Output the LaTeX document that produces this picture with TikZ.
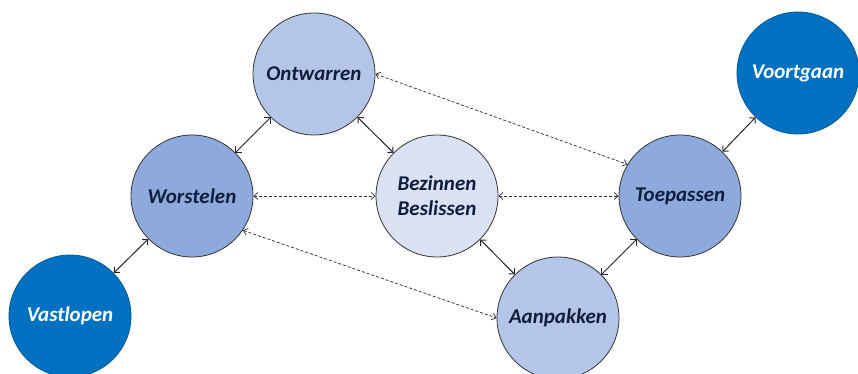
\documentclass[tikz,border=0pt]{standalone}
\usepackage{fontspec}
\setmainfont{Carlito}
\usetikzlibrary{arrows.meta}

\definecolor{palest}{HTML}{D9E1F2}
\definecolor{pale}{HTML}{B4C6E7}
\definecolor{mid}{HTML}{8EA9DB}
\definecolor{deep}{HTML}{0070C0}
\definecolor{navy}{HTML}{0F1E3C}

\begin{document}
\begin{tikzpicture}[x=1pt, y=-1pt]

%-------------------------------------------------
% Styles
%-------------------------------------------------
\tikzset{
  phase/.style={circle, draw=black!80, line width=0.8pt, inner sep=0pt,
    minimum size=122pt, align=center, text=navy,
    font=\fontsize{21}{25}\selectfont\bfseries\itshape},
  lightest/.style={phase, fill=palest},
  light/.style={phase, fill=pale},
  medium/.style={phase, fill=mid},
  outer/.style={phase, fill=deep, draw=deep!80!black, text=white},
  link/.style={{Straight Barb[length=4pt,width=8pt]}-{Straight Barb[length=4pt,width=8pt]},
    draw=black!85, line width=1pt},
  loose/.style={{Straight Barb[length=4pt,width=7pt]}-{Straight Barb[length=4pt,width=7pt]},
    draw=black!80, line width=0.75pt, dash pattern=on 3pt off 2pt}
}

\useasboundingbox (0,0) rectangle (858,374);

%-------------------------------------------------
% Phases
%-------------------------------------------------
\node[light] (O) at (314,74) {Ontwarren};
\node[medium] (W) at (192,196) {Worstelen};
\node[lightest] (B) at (437,196) {Bezinnen\\Beslissen};
\node[medium] (T) at (680,196) {Toepassen};
\node[light] (A) at (558,318) {Aanpakken};

% outer states
\node[outer] (VL) at (70,316) {Vastlopen};
\node[outer] (VG) at (798,73) {Voortgaan};

%-------------------------------------------------
% Solid links
%-------------------------------------------------
\draw[link] (O) -- (W);
\draw[link] (O) -- (B);
\draw[link] (W) -- (VL);
\draw[link] (B) -- (A);
\draw[link] (A) -- (T);
\draw[link] (T) -- (VG);

%-------------------------------------------------
% Dashed links
%-------------------------------------------------
\draw[loose] (O.east) -- (T.149);
\draw[loose] (W.east) -- (B.west);
\draw[loose] (B.east) -- (T.west);
\draw[loose] (W.-34) -- (A.west);

\end{tikzpicture}
\end{document}
